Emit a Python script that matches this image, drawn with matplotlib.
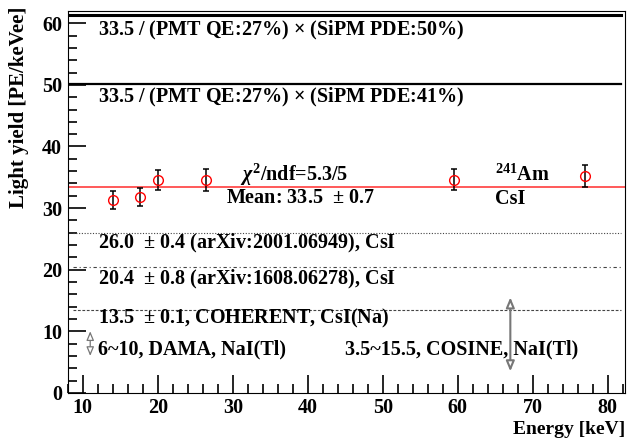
import numpy as np
import matplotlib.pyplot as plt

plt.rcParams['font.family'] = ['Liberation Serif', 'DejaVu Serif']
plt.rcParams['font.weight'] = 'bold'
plt.rcParams['mathtext.fontset'] = 'custom'
plt.rcParams['mathtext.rm'] = 'Liberation Serif:bold'
plt.rcParams['mathtext.it'] = 'Liberation Serif:italic:bold'
plt.rcParams['mathtext.bf'] = 'Liberation Serif:bold'

# Am-241 light yield measurements (CsI)
energia = [14.0, 17.6, 20.1, 26.4, 59.5, 77.0]
ly = [31.3, 31.8, 34.6, 34.6, 34.6, 35.2]
ly_err = [1.5, 1.4, 1.65, 1.8, 1.7, 1.85]

ly_media = 33.5
ly_pde50 = 61.3
ly_pde41 = 50.2

# referencias de otros experimentos
ref_2001 = 26.0
ref_1608 = 20.4
ref_coherent = 13.5
dama_rango = [6, 10]
cosine_rango = [3.5, 15.5]

fig = plt.figure(figsize=(6.27, 4.38), dpi=100)
ax = fig.add_axes([0.108, 0.103, 0.889, 0.872])

ax.set_xlim(8, 82.3)
ax.set_ylim(0, 62)

# lineas horizontales
ax.axhline(ly_pde50, xmin=0.0, xmax=0.992, color='black', lw=2.2)
ax.axhline(ly_pde41, xmin=0.0, xmax=0.992, color='black', lw=1.6)
ax.axhline(ly_media, color='#ff4c4c', lw=1.3)
ax.axhline(ref_2001, xmin=0.01, xmax=0.992, color='#444444', lw=0.8, ls=(0, (1, 1.5)))
ax.axhline(ref_1608, xmin=0.01, xmax=0.992, color='#444444', lw=0.8, ls=(0, (3, 2.5, 1, 2.5)))
ax.axhline(ref_coherent, xmin=0.01, xmax=0.992, color='#444444', lw=0.8, ls=(0, (2.5, 1.5)))

# puntos con barras de error
ax.errorbar(energia, ly, yerr=ly_err, fmt='none', ecolor='black',
            elinewidth=1.1, capsize=2.5, capthick=1.1, zorder=3)
ax.plot(energia, ly, 'o', mfc='none', mec='red', ms=7, mew=1.0, zorder=4)

# ejes estilo ROOT
ax.set_xticks(np.arange(10, 81, 10))
ax.set_xticks(np.arange(8, 83, 2), minor=True)
ax.set_yticks(np.arange(0, 61, 10))
ax.set_yticks(np.arange(0, 62, 2), minor=True)
ax.tick_params(which='both', direction='in', top=False, right=False,
               labelsize=14.5, width=1.2, color='black')
ax.tick_params(which='major', length=13)
ax.tick_params(which='minor', length=6.5)
ax.tick_params(axis='x', pad=4)
ax.tick_params(axis='y', pad=4)

# flechas de rangos (punta abierta)
flecha = dict(arrowstyle='<|-|>,head_length=0.6,head_width=0.25', ec='#777777',
              fc='white', lw=1.5, mutation_scale=10, shrinkA=0, shrinkB=0)
flecha_dama = dict(arrowstyle='<|-|>,head_length=0.6,head_width=0.25', ec='#777777',
                   fc='white', lw=0.9, mutation_scale=9, shrinkA=0, shrinkB=0)
ax.annotate('', xy=(11.0, dama_rango[1]), xytext=(11.0, dama_rango[0]),
            arrowprops=flecha_dama)
ax.annotate('', xy=(67.0, cosine_rango[1]), xytext=(67.0, cosine_rango[0]),
            arrowprops=flecha)

fs = 14.5
ax.text(12.0, 58.8, '33.5 / (PMT QE:27%) $\\times$ (SiPM PDE:50%)', fontsize=fs, va='center')
ax.text(12.0, 47.9, '33.5 / (PMT QE:27%) $\\times$ (SiPM PDE:41%)', fontsize=fs, va='center')
ax.text(30.9, 35.4, '$\\chi^{2}$/ndf=5.3/5', fontsize=fs, va='center')
ax.text(29.1, 31.6, 'Mean: 33.5  $\\pm$ 0.7', fontsize=fs, va='center')
ax.text(64.9, 35.4, '$^{241}$Am', fontsize=fs, va='center')
ax.text(64.9, 31.5, 'CsI', fontsize=fs, va='center')
ax.text(12.0, 24.2, '26.0  $\\pm$ 0.4 (arXiv:2001.06949), CsI', fontsize=fs, va='center')
ax.text(12.0, 18.4, '20.4  $\\pm$ 0.8 (arXiv:1608.06278), CsI', fontsize=fs, va='center')
ax.text(12.0, 12.0, '13.5  $\\pm$ 0.1, COHERENT, CsI(Na)', fontsize=fs, va='center')
ax.text(12.0, 7.0, '6~10, DAMA, NaI(Tl)', fontsize=fs, va='center')
ax.text(44.9, 7.0, '3.5~15.5, COSINE, NaI(Tl)', fontsize=fs, va='center')

fig.text(0.997, 0.019, 'Energy [keV]', fontsize=14, fontweight='bold',
         ha='right', va='center')
fig.text(0.030, 0.985, 'Light yield [PE/keVee]', fontsize=15, fontweight='bold',
         rotation=90, ha='center', va='top')

fig.savefig('out.png', dpi=100)
